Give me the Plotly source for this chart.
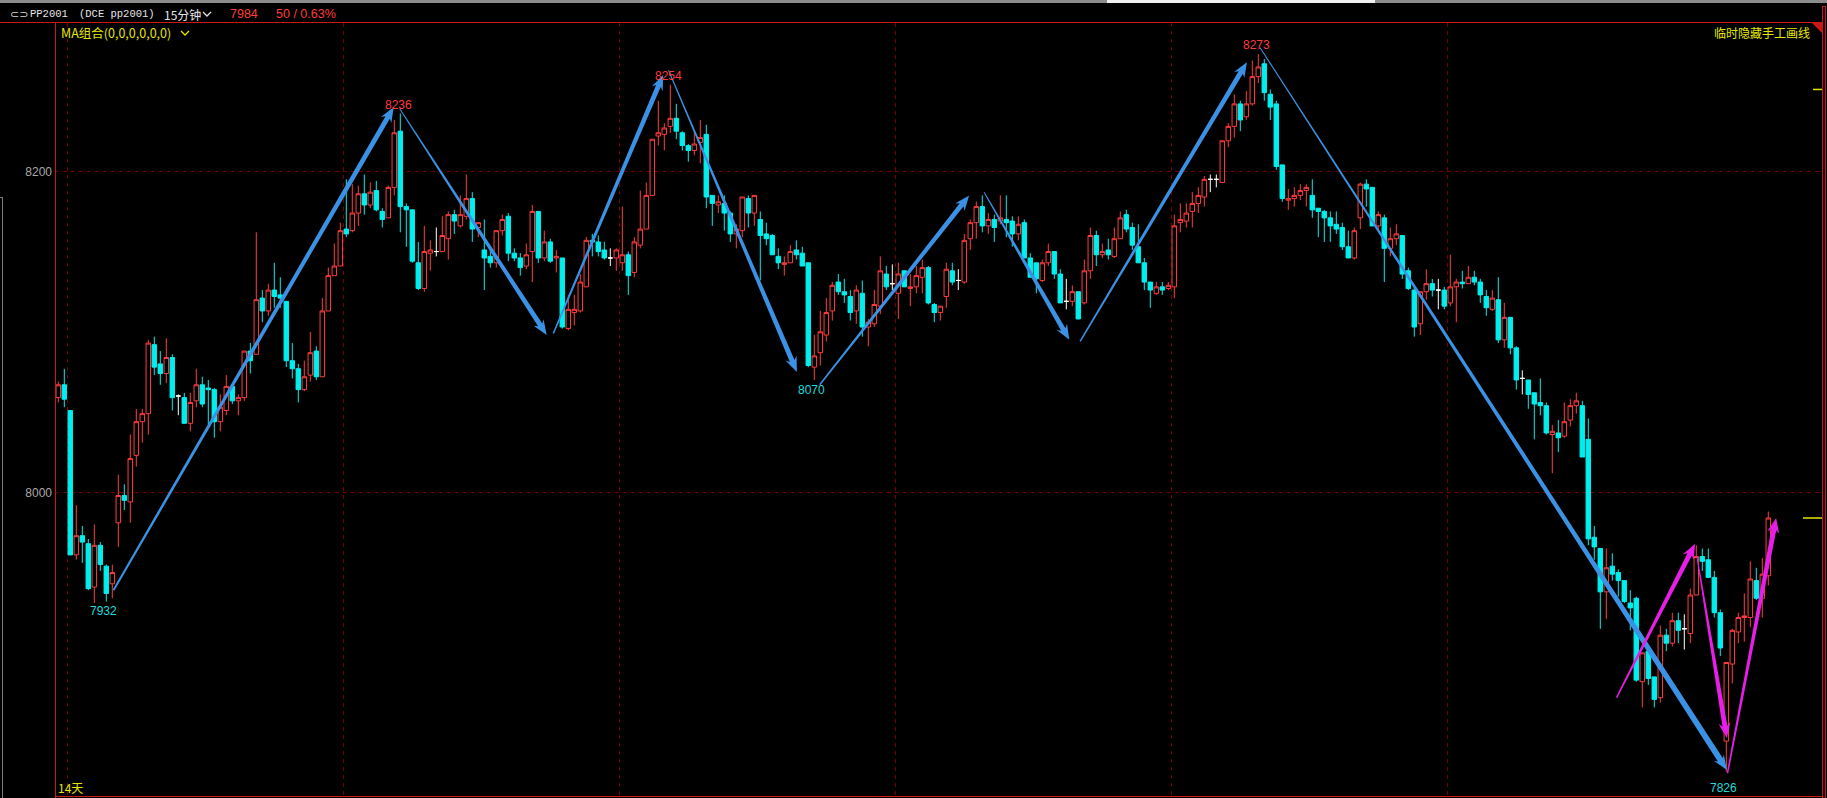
import math
import plotly.graph_objects as go

# ---------------- data (15-minute bars, PP2001) ----------------
opens = [
    8059, 8067, 8051, 7961, 7973, 7968, 7941, 7967, 7954, 7943,
    7981, 7998, 7994, 8023, 8044, 8049, 8092, 8080, 8074, 8084,
    8060, 8059, 8043, 8057, 8067, 8065, 8064, 8044, 8051, 8066,
    8057, 8059, 8088, 8086, 8121, 8113, 8126, 8123, 8119, 8082,
    8077, 8064, 8073, 8088, 8072, 8113, 8135, 8141, 8164, 8163,
    8174, 8186, 8179, 8188, 8175, 8171, 8190, 8225, 8178, 8176,
    8143, 8127, 8149, 8150, 8150, 8158, 8173, 8166, 8172, 8183,
    8165, 8151, 8147, 8143, 8163, 8172, 8149, 8146, 8141, 8150,
    8175, 8146, 8156, 8146, 8146, 8102, 8112, 8113, 8128, 8157,
    8156, 8151, 8146, 8146, 8143, 8148, 8137, 8154, 8164, 8185,
    8222, 8223, 8228, 8233, 8224, 8216, 8213, 8218, 8223, 8185,
    8179, 8180, 8174, 8161, 8163, 8183, 8174, 8170, 8161, 8160,
    8147, 8142, 8143, 8151, 8149, 8143, 8078, 8087, 8098, 8113,
    8131, 8125, 8122, 8113, 8124, 8103, 8105, 8116, 8136, 8130,
    8124, 8138, 8127, 8128, 8134, 8140, 8117, 8112, 8122, 8138,
    8132, 8131, 8158, 8168, 8178, 8166, 8170, 8169, 8170, 8169,
    8161, 8168, 8146, 8143, 8132, 8143, 8150, 8136, 8119, 8119,
    8125, 8118, 8138, 8160, 8148, 8151, 8147, 8158, 8173, 8165,
    8153, 8143, 8131, 8124, 8128, 8127, 8128, 8168, 8169, 8175,
    8180, 8184, 8195, 8195, 8193, 8219, 8228, 8242, 8234, 8242,
    8259, 8267, 8248, 8242, 8204, 8182, 8183, 8185, 8188, 8185,
    8177, 8175, 8171, 8167, 8165, 8153, 8146, 8171, 8192, 8190,
    8166, 8171, 8152, 8158, 8160, 8138, 8126, 8105, 8125, 8130,
    8126, 8126, 8118, 8128, 8131, 8130, 8134, 8131, 8122, 8114,
    8120, 8095, 8109, 8090, 8071, 8070, 8062, 8056, 8054, 8036,
    8037, 8035, 8045, 8054, 8054, 8033, 7972, 7965, 7938, 7954,
    7950, 7945, 7931, 7934, 7882, 7901, 7885, 7872, 7911, 7906,
    7920, 7915, 7912, 7936, 7960, 7958, 7947, 7925, 7845, 7893,
    7913, 7922, 7922, 7945, 7934, 7948,
]
highs = [
    8069, 8077, 8051, 7992, 7979, 7971, 7980, 7969, 7955, 7955,
    8011, 8005, 8036, 8052, 8052, 8095, 8097, 8088, 8096, 8086,
    8061, 8062, 8062, 8077, 8072, 8070, 8065, 8061, 8073, 8067,
    8061, 8088, 8093, 8162, 8126, 8130, 8143, 8134, 8119, 8093,
    8080, 8082, 8100, 8091, 8121, 8140, 8155, 8168, 8195, 8192,
    8191, 8198, 8193, 8194, 8177, 8191, 8232, 8236, 8180, 8176,
    8156, 8166, 8157, 8165, 8172, 8175, 8176, 8185, 8198, 8187,
    8168, 8170, 8151, 8163, 8173, 8174, 8152, 8149, 8155, 8179,
    8175, 8163, 8158, 8151, 8146, 8123, 8123, 8136, 8159, 8161,
    8160, 8156, 8152, 8152, 8178, 8150, 8159, 8188, 8193, 8220,
    8244, 8230, 8254, 8242, 8225, 8217, 8225, 8232, 8229, 8185,
    8185, 8185, 8175, 8167, 8184, 8185, 8185, 8175, 8168, 8161,
    8152, 8147, 8154, 8157, 8153, 8143, 8098, 8113, 8121, 8131,
    8136, 8133, 8126, 8129, 8132, 8108, 8126, 8147, 8141, 8142,
    8143, 8138, 8136, 8141, 8145, 8141, 8118, 8116, 8143, 8143,
    8139, 8161, 8170, 8181, 8185, 8174, 8173, 8185, 8185, 8172,
    8172, 8170, 8149, 8143, 8145, 8155, 8150, 8139, 8133, 8129,
    8125, 8145, 8165, 8163, 8155, 8158, 8165, 8175, 8176, 8168,
    8167, 8146, 8131, 8131, 8131, 8131, 8173, 8180, 8180, 8187,
    8190, 8197, 8198, 8198, 8219, 8230, 8248, 8244, 8250, 8269,
    8273, 8270, 8251, 8244, 8204, 8189, 8190, 8192, 8192, 8195,
    8177, 8176, 8175, 8175, 8168, 8163, 8165, 8193, 8195, 8190,
    8175, 8173, 8165, 8167, 8160, 8140, 8128, 8125, 8139, 8133,
    8133, 8128, 8148, 8133, 8138, 8141, 8138, 8133, 8126, 8126,
    8134, 8118, 8109, 8091, 8076, 8070, 8062, 8071, 8056, 8042,
    8045, 8056, 8058, 8062, 8057, 8046, 7979, 7965, 7965, 7962,
    7952, 7945, 7939, 7935, 7900, 7901, 7885, 7917, 7915, 7925,
    7925, 7924, 7940, 7967, 7965, 7965, 7951, 7927, 7894, 7915,
    7925, 7937, 7957, 7953, 7959, 7988,
]
lows = [
    8056, 8053, 7961, 7958, 7956, 7939, 7931, 7951, 7932, 7934,
    7966, 7989, 7981, 8016, 8031, 8036, 8073, 8067, 8068, 8051,
    8048, 8043, 8038, 8053, 8053, 8042, 8034, 8038, 8048, 8055,
    8048, 8057, 8074, 8086, 8106, 8110, 8115, 8115, 8078, 8071,
    8056, 8063, 8069, 8070, 8072, 8113, 8135, 8141, 8159, 8162,
    8166, 8173, 8177, 8175, 8165, 8171, 8185, 8162, 8153, 8143,
    8126, 8125, 8138, 8147, 8150, 8145, 8161, 8165, 8170, 8156,
    8159, 8126, 8140, 8140, 8160, 8144, 8144, 8135, 8139, 8131,
    8143, 8144, 8143, 8137, 8102, 8101, 8104, 8112, 8128, 8147,
    8147, 8145, 8141, 8138, 8138, 8123, 8134, 8152, 8164, 8185,
    8216, 8213, 8224, 8220, 8213, 8206, 8210, 8205, 8177, 8166,
    8174, 8163, 8156, 8152, 8159, 8165, 8166, 8132, 8154, 8148,
    8139, 8135, 8143, 8145, 8141, 8078, 8070, 8079, 8094, 8107,
    8123, 8118, 8107, 8105, 8097, 8091, 8103, 8111, 8126, 8126,
    8108, 8128, 8116, 8124, 8124, 8117, 8106, 8107, 8115, 8129,
    8126, 8130, 8151, 8158, 8162, 8161, 8156, 8167, 8159, 8153,
    8157, 8146, 8134, 8124, 8131, 8141, 8133, 8118, 8114, 8116,
    8108, 8117, 8133, 8141, 8146, 8145, 8146, 8158, 8162, 8151,
    8143, 8126, 8115, 8123, 8123, 8126, 8121, 8162, 8165, 8165,
    8174, 8178, 8187, 8190, 8193, 8215, 8221, 8225, 8232, 8241,
    8255, 8244, 8232, 8201, 8181, 8176, 8178, 8182, 8178, 8171,
    8159, 8156, 8156, 8161, 8151, 8146, 8145, 8164, 8178, 8166,
    8163, 8131, 8147, 8154, 8133, 8126, 8097, 8098, 8120, 8122,
    8114, 8114, 8116, 8106, 8127, 8130, 8129, 8118, 8110, 8113,
    8093, 8090, 8086, 8064, 8061, 8052, 8033, 8048, 8036, 8012,
    8025, 8034, 8041, 8049, 8022, 7967, 7958, 7915, 7921, 7945,
    7935, 7931, 7914, 7882, 7866, 7880, 7866, 7869, 7901, 7904,
    7906, 7902, 7906, 7936, 7951, 7947, 7922, 7898, 7826, 7881,
    7906, 7907, 7916, 7933, 7922, 7942,
]
closes = [
    8067, 8058, 7961, 7973, 7969, 7940, 7967, 7955, 7937, 7950,
    7998, 7995, 8021, 8044, 8049, 8093, 8078, 8074, 8084, 8059,
    8060, 8043, 8056, 8067, 8055, 8064, 8044, 8053, 8066, 8057,
    8059, 8088, 8082, 8120, 8113, 8126, 8122, 8121, 8082, 8077,
    8064, 8072, 8087, 8072, 8113, 8135, 8141, 8163, 8161, 8174,
    8186, 8179, 8187, 8176, 8170, 8190, 8224, 8178, 8176, 8144,
    8127, 8150, 8151, 8150, 8160, 8173, 8169, 8173, 8183, 8164,
    8168, 8146, 8143, 8163, 8170, 8149, 8146, 8140, 8148, 8175,
    8146, 8156, 8144, 8147, 8103, 8114, 8114, 8131, 8157, 8156,
    8150, 8146, 8146, 8151, 8148, 8135, 8156, 8164, 8185, 8220,
    8224, 8227, 8233, 8225, 8216, 8213, 8217, 8221, 8184, 8180,
    8181, 8174, 8161, 8164, 8184, 8174, 8185, 8160, 8158, 8148,
    8143, 8143, 8150, 8148, 8141, 8079, 8085, 8100, 8112, 8129,
    8125, 8123, 8112, 8126, 8103, 8106, 8117, 8138, 8128, 8130,
    8136, 8128, 8128, 8135, 8140, 8118, 8112, 8116, 8139, 8131,
    8132, 8157, 8168, 8178, 8166, 8170, 8165, 8171, 8168, 8161,
    8167, 8146, 8134, 8133, 8143, 8150, 8136, 8118, 8119, 8125,
    8108, 8138, 8160, 8148, 8150, 8148, 8158, 8171, 8164, 8154,
    8143, 8131, 8126, 8128, 8126, 8129, 8166, 8170, 8174, 8180,
    8185, 8195, 8195, 8195, 8219, 8228, 8242, 8232, 8242, 8259,
    8265, 8249, 8240, 8203, 8183, 8183, 8185, 8188, 8190, 8176,
    8175, 8171, 8166, 8164, 8153, 8146, 8163, 8192, 8189, 8166,
    8173, 8152, 8158, 8161, 8136, 8127, 8103, 8125, 8130, 8126,
    8126, 8116, 8128, 8131, 8130, 8134, 8131, 8123, 8115, 8121,
    8095, 8109, 8090, 8070, 8071, 8061, 8055, 8054, 8037, 8038,
    8034, 8044, 8054, 8057, 8022, 7971, 7966, 7938, 7953, 7949,
    7945, 7932, 7928, 7883, 7900, 7884, 7871, 7911, 7906, 7920,
    7914, 7915, 7936, 7960, 7957, 7947, 7925, 7903, 7894, 7914,
    7922, 7923, 7946, 7934, 7949, 7984,
]

# marked extremes (bar index, label)
peak_labels = [(57, "8236"), (102, "8254"), (200, "8273")]
trough_labels = [(8, "7932"), (126, "8070"), (278, "7826")]

# hand-drawn arrows: (bar0, price0, bar1, price1, w0, w1, colour)
BLUE = "#3b91e3"
MAG = "#e61ee6"
arrows = [
    (9.2, 7939, 55.9, 8240, 2.0, 5.0, BLUE),
    (56.9, 8239, 81.4, 8098, 1.0, 5.0, BLUE),
    (82.5, 8099, 100.8, 8260, 1.5, 5.0, BLUE),
    (101.7, 8263, 123.1, 8075, 1.0, 5.0, BLUE),
    (126.9, 8067, 151.8, 8185, 1.5, 5.0, BLUE),
    (154.3, 8187, 168.5, 8095, 1.0, 5.0, BLUE),
    (170.3, 8094, 198.1, 8268, 1.5, 5.0, BLUE),
    (200.3, 8277, 278.1, 7827, 1.0, 6.0, BLUE),
    (259.7, 7872, 272.8, 7968, 1.5, 5.0, MAG),
    (273.1, 7960, 278.1, 7847, 1.0, 5.0, MAG),
    (278.2, 7825, 286.3, 7984, 1.5, 5.0, MAG),
]

day_lines = [1.5, 47.5, 93.5, 139.5, 185.5, 231.5]
price_ticks = [8000, 8200]
last_price = 7984
other_mark = 8251

# ---------------- geometry ----------------
W, H = 1827, 798
X0, X1, Y0, Y1 = 55, 1822, 23, 796          # plot area in pixels
XR = [-0.55, 293.95]
YR = [7810.8, 8292.4]

RED = "#ff3c3c"
CYAN = "#00eeee"
GRID = "#7a0000"
FRAME = "#c81818"
YEL = "#e6e600"


def px(i, p):
    x = X0 + (i - XR[0]) / (XR[1] - XR[0]) * (X1 - X0)
    y = Y0 + (YR[1] - p) / (YR[1] - YR[0]) * (Y1 - Y0)
    return x, y


def pp(x, y):
    return x / W, 1 - y / H


def arrow_path(i0, p0, i1, p1, w0, w1, hl=12.0, hw=6.0):
    x0, y0 = px(i0, p0)
    x1, y1 = px(i1, p1)
    dx, dy = x1 - x0, y1 - y0
    L = math.hypot(dx, dy)
    ux, uy = dx / L, dy / L
    nx, ny = -uy, ux
    bx, by = x1 - ux * hl, y1 - uy * hl
    cx, cy = x1 - ux * (hl + 3), y1 - uy * (hl + 3)
    pts = [
        (x0 + nx * w0 / 2, y0 + ny * w0 / 2),
        (bx + nx * w1 / 2, by + ny * w1 / 2),
        (cx + nx * hw, cy + ny * hw),
        (x1, y1),
        (cx - nx * hw, cy - ny * hw),
        (bx - nx * w1 / 2, by - ny * w1 / 2),
        (x0 - nx * w0 / 2, y0 - ny * w0 / 2),
    ]
    s = ""
    for k, (x, y) in enumerate(pts):
        a, b = pp(x, y)
        s += ("M" if k == 0 else "L") + f"{a:.6f},{b:.6f} "
    return s + "Z"


fig = go.Figure()

idx = list(range(len(opens)))
groups = {
    "up": [i for i in idx if closes[i] > opens[i]],
    "down": [i for i in idx if closes[i] < opens[i]],
    "doji": [i for i in idx if closes[i] == opens[i]],
}
styles = {
    "up": (RED, "#000000", RED, "#000000"),
    "down": (CYAN, CYAN, CYAN, CYAN),
    "doji": ("#ffffff", "#ffffff", "#ffffff", "#ffffff"),
}
for name, ids in groups.items():
    il, ifc, dl, dfc = styles[name]
    fig.add_trace(go.Candlestick(
        x=ids,
        open=[opens[i] for i in ids],
        high=[highs[i] for i in ids],
        low=[lows[i] for i in ids],
        close=[closes[i] for i in ids],
        increasing=dict(line=dict(color=il, width=1), fillcolor=ifc),
        decreasing=dict(line=dict(color=dl, width=1), fillcolor=dfc),
        whiskerwidth=0,
        hoverinfo="skip",
        showlegend=False,
    ))

shapes = []
for (i0, p0, i1, p1, w0, w1, col) in arrows:
    shapes.append(dict(type="path", xref="paper", yref="paper",
                       path=arrow_path(i0, p0, i1, p1, w0, w1),
                       fillcolor=col, line=dict(width=0), layer="above"))


def rect(x0, y0, x1, y1, color):
    a0, b0 = pp(x0, y0)
    a1, b1 = pp(x1, y1)
    return dict(type="rect", xref="paper", yref="paper", x0=a0, y0=b1, x1=a1, y1=b0,
                fillcolor=color, line=dict(width=0), layer="above")


def hline(x0, x1, y, color, w=1):
    a0, b = pp(x0, y)
    a1, _ = pp(x1, y)
    return dict(type="line", xref="paper", yref="paper", x0=a0, x1=a1, y0=b, y1=b,
                line=dict(color=color, width=w), layer="above")


def vline(x, y0, y1, color, w=1):
    a, b0 = pp(x, y0)
    _, b1 = pp(x, y1)
    return dict(type="line", xref="paper", yref="paper", x0=a, x1=a, y0=b0, y1=b1,
                line=dict(color=color, width=w), layer="above")


shapes.append(rect(0, 0, W, 3, "#8c8c8c"))
shapes.append(rect(1107, 0, 1375, 3, "#f0f0f0"))
shapes.append(hline(0, 1822, 22.5, FRAME))
shapes.append(vline(55.5, 22.5, H, FRAME))
shapes.append(hline(55, 1822, 796.5, FRAME))
shapes.append(vline(1822.5, 6, H, FRAME))
shapes.append(vline(1825.5, 6, H, FRAME))
shapes.append(hline(1822, 1826, 6.5, FRAME))
shapes.append(vline(2.5, 197, H, "#7a7a7a"))
shapes.append(hline(0, 3, 197.5, "#7a7a7a"))
a0, b0 = pp(1812, 23)
a1, b1 = pp(1822, 23)
a2, b2 = pp(1822, 33)
shapes.append(dict(type="path", xref="paper", yref="paper",
                   path=f"M{a0},{b0} L{a1},{b1} L{a2},{b2} Z",
                   fillcolor=FRAME, line=dict(width=0), layer="above"))


def chevron(xc, yc, color):
    a0, b0 = pp(xc - 4, yc - 2)
    a1, b1 = pp(xc, yc + 2)
    a2, b2 = pp(xc + 4, yc - 2)
    return dict(type="path", xref="paper", yref="paper",
                path=f"M{a0},{b0} L{a1},{b1} L{a2},{b2}",
                line=dict(color=color, width=1.3), layer="above")


shapes.append(chevron(207, 14, "#e0e0e0"))
shapes.append(chevron(185, 33, YEL))
for val, xs in ((last_price, 1803), (other_mark, 1813)):
    shapes.append(dict(type="line", xref="paper", yref="y",
                       x0=xs / W, x1=1822 / W, y0=val, y1=val,
                       line=dict(color=YEL, width=1.5), layer="above"))

ann = []


def text(x, y, s, color, size=12, family="Noto Sans CJK SC", xanchor="left"):
    a, b = pp(x, y)
    ann.append(dict(xref="paper", yref="paper", x=a, y=b, text=s, showarrow=False,
                    xanchor=xanchor, yanchor="middle",
                    font=dict(color=color, size=size, family=family)))


text(8, 14, "⊂⊃", "#d8d8d8", 11, "DejaVu Sans")
text(28, 14, "PP2001", "#e6e6e6", 10.5, "Liberation Mono")
text(77, 14, "(DCE pp2001)", "#e6e6e6", 10.5, "Liberation Mono")
text(162, 14, "15分钟", "#e6e6e6", 12)
text(228, 14, "7984", RED, 12.5, "Liberation Sans")
text(274, 14, "50 / 0.63%", RED, 12.5, "Liberation Sans")
text(59, 32, "MA组合(0,0,0,0,0,0)", YEL, 12.5)
text(1812, 32, "临时隐藏手工画线", YEL, 12, xanchor="right")
text(56, 787, "14天", YEL, 12)

for i, s in peak_labels:
    ann.append(dict(xref="x", yref="y", x=i, y=highs[i], text=s, showarrow=False,
                    yanchor="middle", yshift=9, xshift=-2,
                    font=dict(color=RED, size=12, family="Liberation Sans")))
for i, s in trough_labels:
    ys = -16 if i == 278 else -10
    ann.append(dict(xref="x", yref="y", x=i, y=lows[i], text=s, showarrow=False,
                    yanchor="middle", yshift=ys, xshift=-3,
                    font=dict(color="#20dada", size=12, family="Liberation Sans")))

fig.update_layout(
    width=W, height=H,
    margin=dict(l=0, r=0, t=0, b=0),
    paper_bgcolor="#000000", plot_bgcolor="#000000",
    showlegend=False,
    boxgap=0.25, boxgroupgap=0,
    shapes=shapes,
    annotations=ann,
    xaxis=dict(domain=[X0 / W, X1 / W], range=XR, rangeslider=dict(visible=False),
               tickvals=day_lines, showticklabels=False, ticks="",
               showgrid=True, gridcolor=GRID, griddash="4px,4px", gridwidth=1,
               zeroline=False, showline=False, fixedrange=True),
    yaxis=dict(domain=[1 - Y1 / H, 1 - Y0 / H], range=YR,
               tickvals=price_ticks, ticktext=[str(v) for v in price_ticks],
               ticks="", ticklabelstandoff=2,
               tickfont=dict(color="#a8a8a8", size=12, family="Liberation Sans"),
               showgrid=True, gridcolor=GRID, griddash="4px,4px", gridwidth=1,
               zeroline=False, showline=False, fixedrange=True),
)

fig.write_html(
    "out.html",
    config={"displayModeBar": False},
    post_script="document.body.style.margin='0';document.body.style.overflow='hidden';",
)
